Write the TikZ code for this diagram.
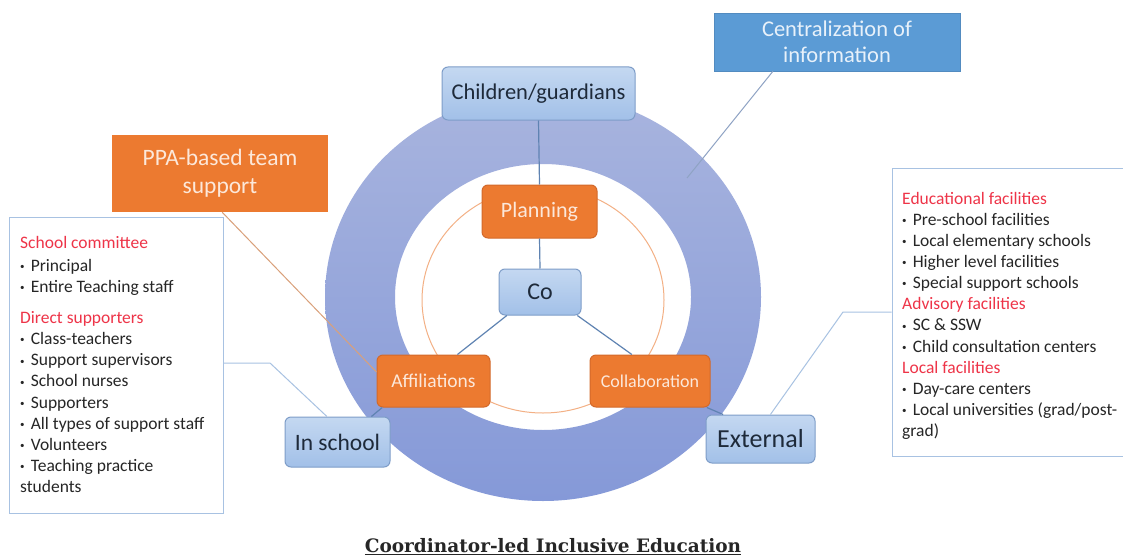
\documentclass[tikz,border=0pt]{standalone}
\usepackage{fontspec}
\setmainfont{Carlito}
\newfontfamily\capfont{DejaVu Serif}
\usetikzlibrary{calc}
\definecolor{ringtop}{HTML}{A8B4DE}
\definecolor{ringbot}{HTML}{8599D8}
\definecolor{bluetop}{HTML}{C4D8F1}
\definecolor{bluebot}{HTML}{A2C0E8}
\definecolor{blueedge}{HTML}{7E9DC8}
\definecolor{lineblue}{HTML}{5F83B2}
\definecolor{orangefill}{HTML}{EC7A30}
\definecolor{orangeedge}{HTML}{D3692A}
\definecolor{orangetext}{HTML}{FCE8DA}
\definecolor{midblue}{HTML}{5B9BD5}
\definecolor{midbluetext}{HTML}{E8F1FA}
\definecolor{darktext}{HTML}{1E2A3A}
\definecolor{headred}{HTML}{EE3448}
\definecolor{boxedge}{HTML}{A8C2E2}
\definecolor{thinorange}{HTML}{F3B085}
\definecolor{ppaline}{HTML}{D9A07A}
\definecolor{graylink}{HTML}{8FA3C4}
\tikzset{
  bluebox/.style={draw=blueedge, line width=1pt, rounded corners=6pt, top color=bluetop, bottom color=bluebot, text=darktext, inner sep=0pt},
  orangebox/.style={draw=orangeedge, line width=1pt, rounded corners=6pt, fill=orangefill, text=orangetext, inner sep=0pt},
  infobox/.style={draw=boxedge, line width=1pt, inner sep=0pt},
  infotext/.style={anchor=north west, align=left, inner sep=0pt, text=black!85, font=\fontsize{17.5}{21.1}\selectfont},
  link/.style={draw=lineblue, line width=1.2pt},
  sidelink/.style={draw=boxedge, line width=1pt},
}
\newcommand{\hd}[1]{\textcolor{headred}{#1}}
\newcommand{\bl}{\raisebox{0.22ex}{\fontsize{9}{9}\selectfont•}\hspace{0.35em}}
\begin{document}
\begin{tikzpicture}[x=1pt,y=-1pt]
\useasboundingbox (0,0) rectangle (1123,559);
\fill[white] (0,0) rectangle (1123,559);
% ring
\path[top color=ringtop, bottom color=ringbot, even odd rule]
  (543,297) ellipse [x radius=218pt, y radius=204pt]
  (543,297) ellipse [x radius=148pt, y radius=133pt];
\draw[thinorange, line width=1pt] (543,300) ellipse [x radius=121pt, y radius=113pt];

% nodes
\node[bluebox, minimum width=193pt, minimum height=53pt, font=\fontsize{22.5}{24}\selectfont] (child) at (538.5,93.5) {Children/guardians};
\node[orangebox, minimum width=115pt, minimum height=53pt, font=\fontsize{22}{24}\selectfont] (plan) at (539.5,211.5) {Planning};
\node[bluebox, minimum width=82pt, minimum height=46pt, font=\fontsize{24}{26}\selectfont] (co) at (540,292) {Co};
\node[orangebox, minimum width=113pt, minimum height=52pt, font=\fontsize{19.5}{22}\selectfont] (aff) at (433.5,381) {Affiliations};
\node[orangebox, minimum width=120pt, minimum height=52pt, font=\fontsize{18}{22}\selectfont] (coll) at (650,381) {Collaboration};
\node[bluebox, minimum width=105pt, minimum height=50pt, font=\fontsize{23.5}{26}\selectfont] (insch) at (337.5,442) {In school};
\node[bluebox, minimum width=109pt, minimum height=48pt, font=\fontsize{26}{28}\selectfont] (ext) at (760.5,439) {External};
\node[fill=midblue, draw=midblue!90!black, line width=0.6pt, minimum width=246pt, minimum height=58pt, text=midbluetext, align=center, inner sep=0pt, font=\fontsize{22.5}{26}\selectfont] (central) at (837,42) {Centralization of\\information};
\node[fill=orangefill, minimum width=216pt, minimum height=77pt, text=orangetext, align=center, inner sep=0pt, font=\fontsize{23.5}{28}\selectfont] (ppa) at (220,173.5) {PPA-based team\\support};

% info boxes
\node[infobox, minimum width=214pt, minimum height=296pt] (lbox) at (116,365) {};
\node[infotext] (ltext) at (20,236) {\hd{School committee}\\[2pt]
\bl Principal\\
\bl Entire Teaching staff\\[10pt]
\hd{Direct supporters}\\
\bl Class-teachers\\
\bl Support supervisors\\
\bl School nurses\\
\bl Supporters\\
\bl All types of support staff\\
\bl Volunteers\\
\bl Teaching practice\\
students};
\node[infobox, minimum width=240pt, minimum height=288pt] (rbox) at (1012,312) {};
\node[infotext] (rtext) at (902,192) {\hd{Educational facilities}\\
\bl Pre-school facilities\\
\bl Local elementary schools\\
\bl Higher level facilities\\
\bl Special support schools\\
\hd{Advisory facilities}\\
\bl SC \& SSW\\
\bl Child consultation centers\\
\hd{Local facilities}\\
\bl Day-care centers\\
\bl Local universities (grad/post-\\
grad)};

% connectors
\draw[link] (child.south) -- (plan.north);
\draw[link] (plan.south) -- (co.north);
\draw[link] ($(co.south west)!0.1!(co.south east)$) -- ($(aff.north west)!0.71!(aff.north east)$);
\draw[link] ($(co.south west)!0.95!(co.south east)$) -- ($(coll.north west)!0.35!(coll.north east)$);
\draw[link] ($(aff.south west)!0.05!(aff.south east)$) -- ($(insch.north west)!0.82!(insch.north east)$);
\draw[link] ($(coll.south west)!0.97!(coll.south east)$) -- ($(ext.north west)!0.16!(ext.north east)$);
\coordinate (cend) at (687,178);
\draw[graylink, line width=1pt] ($(central.south west)!0.24!(central.south east)$) -- (cend);
\draw[ppaline, line width=1pt] ($(ppa.south west)!0.51!(ppa.south east)$) -- ($(aff.north west)!0.33!(aff.south west)$);
\coordinate (lbend) at (270,363);
\draw[sidelink] (lbox.east |- lbend) -- (lbend) -- ($(insch.north west)!0.4!(insch.north east)$);
\coordinate (rbend) at (843,312);
\draw[sidelink] (rbox.west |- rbend) -- (rbend) -- ($(ext.north west)!0.59!(ext.north east)$);

% caption
\node[font=\capfont\bfseries\fontsize{18.5}{22}\selectfont, text=black!85, inner sep=0pt] (cap) at (553,547) {\underline{Coordinator-led Inclusive Education}};
\end{tikzpicture}
\end{document}
